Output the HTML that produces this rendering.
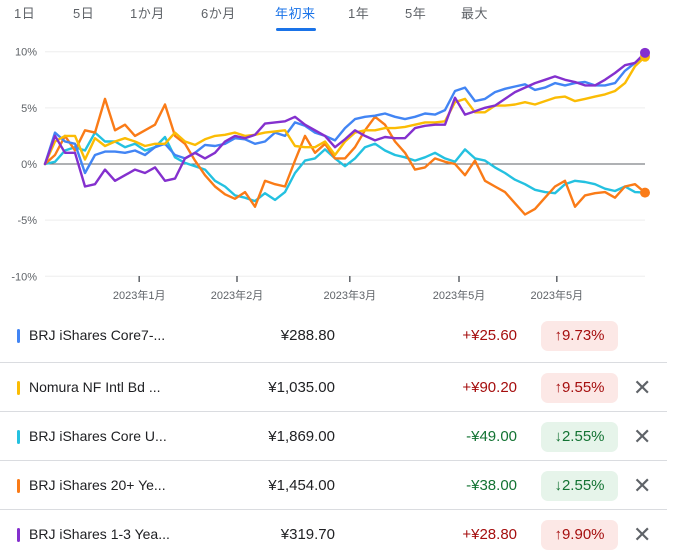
<!DOCTYPE html>
<html><head><meta charset="utf-8">
<style>
body{margin:0;width:682px;height:546px;overflow:hidden;background:#fff;font-family:"Liberation Sans","Noto Sans CJK JP",sans-serif;position:relative}
.tab{position:absolute;top:3px;font-size:13px;color:#5f6368;letter-spacing:0.5px}
.row{position:absolute;left:0;width:667px;height:49px;border-top:1px solid #dadce0}
.bar{position:absolute;left:17px;top:18px;width:3px;height:14px;border-radius:2px}
.nm{position:absolute;left:29px;top:16px;font-size:14px;color:#202124}
.pr{position:absolute;right:332px;top:16px;font-size:15px;color:#202124}
.ch{position:absolute;right:150px;top:16px;font-size:15px}
.bd{position:absolute;left:541px;top:10px;width:77px;height:30px;border-radius:7px;font-size:15px;text-align:center;line-height:30px}
.up{color:#a50e0e}.upb{background:#fce8e6;color:#a50e0e}
.dn{color:#137333}.dnb{background:#e6f4ea;color:#137333}
.x{position:absolute;left:633px;top:13px;font-size:22px;color:#5f6368;line-height:24px}
</style></head><body>
<div class="tab" style="left:14px">1日</div>
<div class="tab" style="left:73px">5日</div>
<div class="tab" style="left:130px">1か月</div>
<div class="tab" style="left:201px">6か月</div>
<div class="tab" style="left:275px;color:#1a73e8">年初来</div>
<div style="position:absolute;left:276px;top:28px;width:40px;height:3px;background:#1a73e8;border-radius:2px"></div>
<div class="tab" style="left:348px">1年</div>
<div class="tab" style="left:405px">5年</div>
<div class="tab" style="left:461px">最大</div>
<svg id="chart" width="682" height="310" style="position:absolute;left:0;top:0"></svg>

<div class="row" style="top:311px;border-top:none"><div class="bar" style="background:#4285f4"></div><div class="nm">BRJ iShares Core7-...</div><div class="pr">¥288.80</div><div class="ch up">+¥25.60</div><div class="bd upb">↑9.73%</div></div>
<div class="row" style="top:362px"><div class="bar" style="background:#fbbc04"></div><div class="nm">Nomura NF Intl Bd ...</div><div class="pr">¥1,035.00</div><div class="ch up">+¥90.20</div><div class="bd upb">↑9.55%</div><div class="x">✕</div></div>
<div class="row" style="top:411px"><div class="bar" style="background:#24c1e0"></div><div class="nm">BRJ iShares Core U...</div><div class="pr">¥1,869.00</div><div class="ch dn">-¥49.00</div><div class="bd dnb">↓2.55%</div><div class="x">✕</div></div>
<div class="row" style="top:460px"><div class="bar" style="background:#fa7b17"></div><div class="nm">BRJ iShares 20+ Ye...</div><div class="pr">¥1,454.00</div><div class="ch dn">-¥38.00</div><div class="bd dnb">↓2.55%</div><div class="x">✕</div></div>
<div class="row" style="top:509px"><div class="bar" style="background:#8430ce"></div><div class="nm">BRJ iShares 1-3 Yea...</div><div class="pr">¥319.70</div><div class="ch up">+¥28.80</div><div class="bd upb">↑9.90%</div><div class="x">✕</div></div>

<script>
const yTicks=[10,5,0,-5,-10];
const xTickLabels=["2023年1月","2023年2月","2023年3月","2023年5月","2023年5月"];
const xTickPos=[0.157,0.32,0.508,0.69,0.853];
const blue=[0,2.8,2.0,1.8,-0.8,0.8,1.1,1.1,1.0,1.2,0.8,1.5,1.8,0.8,0.5,1.0,1.7,1.6,1.8,2.3,2.2,1.8,2.0,2.8,2.5,3.7,3.4,2.8,2.5,2.1,3.2,4.0,4.2,4.3,4.5,4.2,4.0,4.2,4.5,4.4,4.8,6.5,6.8,5.6,5.8,6.4,6.7,6.9,7.1,6.6,6.8,7.2,7.0,7.2,7.3,7.0,7.0,7.2,8.3,9.0,9.73];
const yellow=[0,2.0,2.5,2.5,0.4,2.3,1.6,2.0,2.3,2.0,1.6,1.8,1.8,2.8,2.0,1.7,2.2,2.5,2.6,2.8,2.5,2.6,2.8,2.9,3.0,1.6,1.5,1.5,2.0,0.8,2.0,2.8,3.0,3.0,3.2,3.2,3.3,3.5,3.7,3.7,3.8,5.5,5.8,4.6,4.6,5.2,5.2,5.3,5.5,5.3,5.6,5.9,6.0,5.6,5.8,6.0,6.2,6.5,7.2,8.7,9.55];
const cyan=[0,0.2,1.2,1.5,1.2,2.8,2.0,2.0,1.5,1.8,1.2,1.5,2.4,0.6,0.1,-0.2,-0.5,-1.5,-2.0,-2.8,-3.0,-3.3,-2.6,-3.2,-2.5,-0.8,0.3,0.5,1.3,0.5,-0.2,0.5,1.5,1.8,1.2,0.8,0.6,0.3,0.6,1.0,0.5,0.2,1.3,0.5,0.3,-0.3,-0.8,-1.4,-1.8,-2.3,-2.5,-2.6,-1.8,-1.5,-1.6,-1.8,-2.2,-2.4,-2.0,-2.5,-2.55];
const orange=[0,0.8,2.5,1.2,3.0,2.8,5.8,3.0,3.5,2.5,3.0,3.5,5.3,2.5,1.8,0.3,-1.0,-2.0,-2.7,-3.1,-2.5,-3.8,-1.5,-1.8,-2.0,0.3,2.5,1.0,1.8,0.5,0.5,1.5,3.0,4.2,3.5,2.0,1.0,-0.5,-0.3,0.5,0.2,0.0,-1.0,0.3,-1.5,-2.0,-2.5,-3.5,-4.5,-4.0,-3.0,-2.0,-1.5,-3.8,-2.8,-2.6,-2.5,-3.0,-2.0,-1.8,-2.55];
const purple=[0,2.5,1.0,1.0,-2.0,-1.8,-0.5,-1.5,-1.0,-0.5,-0.8,-0.3,-1.5,-1.3,0.5,1.0,0.5,1.0,2.0,2.5,2.3,2.6,3.6,3.7,3.8,4.2,3.5,3.0,2.5,1.5,2.2,3.0,2.5,2.1,2.4,2.3,2.3,3.2,3.4,3.5,3.5,5.9,4.4,4.7,5.0,5.2,5.8,6.4,6.8,7.2,7.5,7.8,7.5,7.3,7.0,7.0,7.5,8.1,8.8,9.0,9.9];
const NS='http://www.w3.org/2000/svg';
const svg=document.getElementById('chart');
const X0=45,X1=645;
function yS(v){return 164-v*11.23;}
function xS(i,n){return X0+i*(X1-X0)/(n-1);}
function mk(t,a){const e=document.createElementNS(NS,t);for(const k in a)e.setAttribute(k,a[k]);svg.appendChild(e);return e;}
yTicks.forEach(v=>{
  const g=mk('line',{x1:45,x2:645,y1:yS(v),y2:yS(v),stroke:v===0?'#5f6368':'#eeeeee','stroke-width':1});
  
  
  const t=mk('text',{x:37,y:yS(v)+4,'text-anchor':'end','font-size':11,fill:'#5f6368','font-family':'Liberation Sans,sans-serif'});
  t.textContent=v+'%';
  
  
});
xTickLabels.forEach((l,i)=>{
  const x=X0+xTickPos[i]*(X1-X0);
  const tk=mk('line',{x1:x,x2:x,y1:276,y2:282,stroke:'#5f6368','stroke-width':1.5});
  
  
  const t=mk('text',{x:x,y:299,'text-anchor':'middle','font-size':11,fill:'#5f6368','font-family':'Liberation Sans,Noto Sans CJK JP,sans-serif'});
  t.textContent=l;
  
  
});
const series=[[cyan,'#24c1e0','line-core-u'],[orange,'#fa7b17','line-20plus'],[blue,'#4285f4','line-core7'],[yellow,'#fbbc04','line-nomura'],[purple,'#8430ce','line-1-3yr']];
series.forEach(([d,c,n])=>{
  const pts=d.map((v,i)=>xS(i,d.length).toFixed(1)+','+yS(v).toFixed(1)).join(' ');
  const p=mk('polyline',{points:pts,fill:'none',stroke:c,'stroke-width':2.4,'stroke-linejoin':'round','stroke-linecap':'round'});
  
  
});
[[orange,'#fa7b17'],[yellow,'#fbbc04'],[purple,'#8430ce']].forEach(([d,c])=>{
  const e=mk('circle',{cx:xS(d.length-1,d.length),cy:yS(d[d.length-1]),r:5,fill:c});
  
  
});
</script>
</body></html>
